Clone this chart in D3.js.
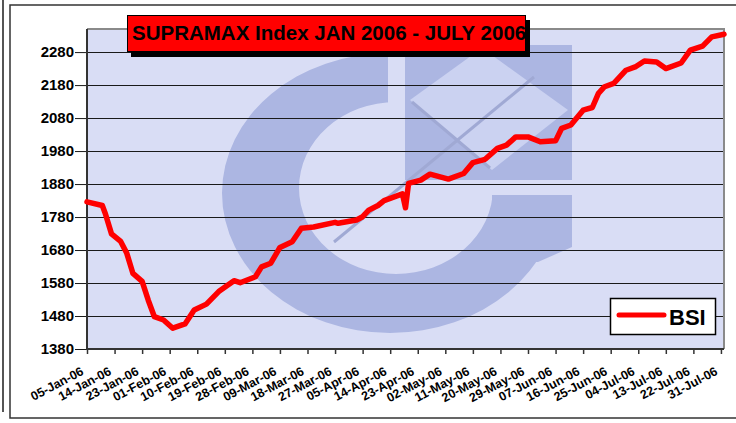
<!DOCTYPE html>
<html>
<head>
<meta charset="utf-8">
<script src="https://cdn.jsdelivr.net/npm/d3@7"></script>
<style>
	body { margin: 0; background: #fff; }
	svg { display: block; font-family: 'Liberation Sans', Arial, sans-serif; }
</style>
</head>
<body>
<svg id="chart" width="736" height="423"></svg>
<script>
// Datos (BSI diario, aproximado)
const fechas = [
	'2006-01-05', '2006-01-10', '2006-01-11', '2006-01-13', '2006-01-16', '2006-01-18', '2006-01-20',
	'2006-01-23', '2006-01-25', '2006-01-27', '2006-01-30', '2006-02-02', '2006-02-06', '2006-02-09',
	'2006-02-13', '2006-02-17', '2006-02-22', '2006-02-24', '2006-03-01', '2006-03-03', '2006-03-06',
	'2006-03-09', '2006-03-13', '2006-03-16', '2006-03-20', '2006-03-27', '2006-03-28', '2006-04-03',
	'2006-04-05', '2006-04-07', '2006-04-10', '2006-04-12', '2006-04-18', '2006-04-19', '2006-04-20',
	'2006-04-24', '2006-04-27', '2006-05-03', '2006-05-08', '2006-05-11', '2006-05-15', '2006-05-19',
	'2006-05-22', '2006-05-25', '2006-05-29', '2006-06-02', '2006-06-07', '2006-06-09', '2006-06-12',
	'2006-06-16', '2006-06-19', '2006-06-21', '2006-06-23', '2006-06-26', '2006-06-30', '2006-07-03',
	'2006-07-06', '2006-07-10', '2006-07-13', '2006-07-18', '2006-07-21', '2006-07-25', '2006-07-28',
	'2006-08-01'
];
const bsi = [
	1826, 1815, 1790, 1729, 1706, 1670, 1609,
	1585, 1528, 1478, 1468, 1443, 1456, 1498,
	1516, 1554, 1587, 1581, 1599, 1629, 1640,
	1688, 1705, 1746, 1750, 1764, 1761, 1771,
	1781, 1801, 1815, 1830, 1850, 1808, 1882,
	1892, 1910, 1895, 1912, 1945, 1955, 1988,
	1998, 2023, 2023, 2008, 2011, 2049, 2059,
	2104, 2112, 2155, 2175, 2185, 2225, 2235,
	2253, 2250, 2230, 2247, 2286, 2298, 2326,
	2334
];
const yTicks = [1380, 1480, 1580, 1680, 1780, 1880, 1980, 2080, 2180, 2280];
const xTicks = [
	'2006-01-05', '2006-01-14', '2006-01-23', '2006-02-01', '2006-02-10', '2006-02-19', '2006-02-28',
	'2006-03-09', '2006-03-18', '2006-03-27', '2006-04-05', '2006-04-14', '2006-04-23', '2006-05-02',
	'2006-05-11', '2006-05-20', '2006-05-29', '2006-06-07', '2006-06-16', '2006-06-25', '2006-07-04',
	'2006-07-13', '2006-07-22', '2006-07-31'
];
const titulo = 'SUPRAMAX Index JAN 2006 - JULY 2006';
const nombreSerie = 'BSI';

const parse = d3.timeParse('%Y-%m-%d');
const fmt = d3.timeFormat('%d-%b-%y');
const fuente = "'Liberation Sans', Arial, sans-serif";

const plot = { left: 87, top: 29, right: 724, bottom: 349 };
const colores = {
	fondo: '#d9ddf5',
	logo: '#acb6e2',
	logoClaro: '#cbd2f1',
	logoLinea: '#a0a9d4',
	linea: '#ff0000'
};

const datos = fechas.map((f, i) => ({ fecha: parse(f), valor: bsi[i] }));

const svg = d3.select('#chart');

// marcos exteriores
svg
	.append('line')
	.attr('x1', 3)
	.attr('x2', 3)
	.attr('y1', 0)
	.attr('y2', 412)
	.attr('stroke', '#555')
	.attr('stroke-width', 2);

svg
	.append('rect')
	.attr('x', 10)
	.attr('y', 5)
	.attr('width', 760)
	.attr('height', 413)
	.attr('fill', '#fff')
	.attr('stroke', '#333')
	.attr('stroke-width', 1.5);

const x = d3
	.scaleTime()
	.domain([parse('2006-01-05'), parse('2006-08-01')])
	.range([plot.left, plot.right]);

const y = d3
	.scaleLinear()
	.domain([1380, 2350])
	.range([plot.bottom, plot.top]);

// area del grafico
svg
	.append('rect')
	.attr('x', plot.left)
	.attr('y', plot.top)
	.attr('width', plot.right - plot.left)
	.attr('height', plot.bottom - plot.top)
	.attr('fill', colores.fondo);

svg
	.append('clipPath')
	.attr('id', 'clip_plot')
	.append('rect')
	.attr('x', plot.left)
	.attr('y', plot.top)
	.attr('width', plot.right - plot.left)
	.attr('height', plot.bottom - plot.top);

// logo de fondo (marca de agua)
const logo = svg.append('g').attr('clip-path', 'url(#clip_plot)');

const ellipsePath = (cx, cy, rx, ry) =>
	`M${cx - rx},${cy} a${rx},${ry} 0 1,0 ${rx * 2},0 a${rx},${ry} 0 1,0 ${-rx * 2},0 Z`;

svg
	.append('clipPath')
	.attr('id', 'clip_c')
	.append('path')
	.attr('d', 'M0,0 H388 V195 H800 V423 H0 Z');

logo
	.append('path')
	.attr('d', ellipsePath(390, 193, 168, 140) + ellipsePath(396, 188, 97, 86))
	.attr('fill-rule', 'evenodd')
	.attr('fill', colores.logo)
	.attr('clip-path', 'url(#clip_c)');

logo
	.append('path')
	.attr('d', 'M492,195 H572 V247 L538,262 H492 Z')
	.attr('fill', colores.logo);

logo
	.append('rect')
	.attr('x', 405)
	.attr('y', 45)
	.attr('width', 167)
	.attr('height', 135)
	.attr('fill', colores.logo);

logo
	.append('path')
	.attr('d', 'M410,100 L482,48 L568,110 L492,170 Z')
	.attr('fill', colores.logoClaro);

logo
	.append('line')
	.attr('x1', 534)
	.attr('y1', 77)
	.attr('x2', 334)
	.attr('y2', 242)
	.attr('stroke', colores.logoLinea)
	.attr('stroke-width', 3);

logo
	.append('line')
	.attr('x1', 412)
	.attr('y1', 102)
	.attr('x2', 490)
	.attr('y2', 168)
	.attr('stroke', colores.logoLinea)
	.attr('stroke-width', 3);

// lineas de la cuadricula
svg
	.append('g')
	.selectAll('line')
	.data(yTicks.slice(1))
	.enter()
	.append('line')
	.attr('x1', plot.left)
	.attr('x2', plot.right)
	.attr('y1', d => Math.round(y(d)) + 0.5)
	.attr('y2', d => Math.round(y(d)) + 0.5)
	.attr('stroke', '#1a1a1a')
	.attr('stroke-width', 1);

// borde superior y derecho del area
svg
	.append('path')
	.attr('d', `M${plot.left},${plot.top} H${plot.right} V${plot.bottom}`)
	.attr('fill', 'none')
	.attr('stroke', '#8a8a8a')
	.attr('stroke-width', 2);

// eje Y
const yAxis = d3
	.axisLeft(y)
	.tickValues(yTicks)
	.tickSize(12)
	.tickPadding(1)
	.tickFormat(d3.format('d'));

const gy = svg
	.append('g')
	.attr('transform', `translate(${plot.left}, 0)`)
	.call(yAxis);

gy.select('.domain').remove();
gy.selectAll('.tick line').attr('stroke', '#1a1a1a');
gy
	.selectAll('.tick text')
	.attr('fill', '#000')
	.attr('font-size', 15)
	.attr('font-weight', 'bold')
	.attr('font-family', fuente);

// eje X
const xAxis = d3
	.axisBottom(x)
	.tickValues(xTicks.map(parse))
	.tickSize(5)
	.tickFormat(fmt);

const gx = svg
	.append('g')
	.attr('transform', `translate(0, ${plot.bottom})`)
	.call(xAxis);

gx.select('.domain').remove();
gx.selectAll('.tick line').attr('stroke', '#333').attr('stroke-width', 1.5);
gx
	.selectAll('.tick text')
	.attr('x', 0)
	.attr('y', 0)
	.attr('dy', 0)
	.attr('text-anchor', 'end')
	.attr('transform', 'translate(-3, 25) rotate(-28)')
	.attr('fill', '#000')
	.attr('font-size', 12.5)
	.attr('font-weight', 'bold')
	.attr('font-family', fuente);

// lineas de los ejes
svg
	.append('path')
	.attr('d', `M${plot.left},${plot.top} V${plot.bottom} H${plot.right}`)
	.attr('fill', 'none')
	.attr('stroke', '#333')
	.attr('stroke-width', 2);

// serie BSI
const line = d3
	.line()
	.x(d => x(d.fecha))
	.y(d => y(d.valor));

svg
	.append('path')
	.datum(datos)
	.attr('fill', 'none')
	.attr('stroke', colores.linea)
	.attr('stroke-width', 5.5)
	.attr('stroke-linejoin', 'round')
	.attr('stroke-linecap', 'round')
	.attr('d', line);

// titulo
svg
	.append('rect')
	.attr('x', 131)
	.attr('y', 20)
	.attr('width', 399)
	.attr('height', 37)
	.attr('fill', '#000');

svg
	.append('rect')
	.attr('x', 127.5)
	.attr('y', 15.5)
	.attr('width', 398)
	.attr('height', 36)
	.attr('fill', '#ff0000')
	.attr('stroke', '#000')
	.attr('stroke-width', 1);

svg
	.append('text')
	.attr('x', 132)
	.attr('y', 40)
	.attr('font-size', 20.5)
	.attr('font-weight', 'bold')
	.attr('font-family', fuente)
	.attr('fill', '#000')
	.text(titulo);

// leyenda
const leyenda = svg.append('g');

leyenda
	.append('rect')
	.attr('x', 610.5)
	.attr('y', 298.5)
	.attr('width', 105)
	.attr('height', 36)
	.attr('fill', '#fff')
	.attr('stroke', '#000')
	.attr('stroke-width', 1.5);

leyenda
	.append('line')
	.attr('x1', 619)
	.attr('x2', 664)
	.attr('y1', 315)
	.attr('y2', 315)
	.attr('stroke', colores.linea)
	.attr('stroke-width', 5)
	.attr('stroke-linecap', 'round');

leyenda
	.append('text')
	.attr('x', 669)
	.attr('y', 325)
	.attr('font-size', 22)
	.attr('font-weight', 'bold')
	.attr('font-family', fuente)
	.attr('fill', '#000')
	.text(nombreSerie);
</script>
</body>
</html>
